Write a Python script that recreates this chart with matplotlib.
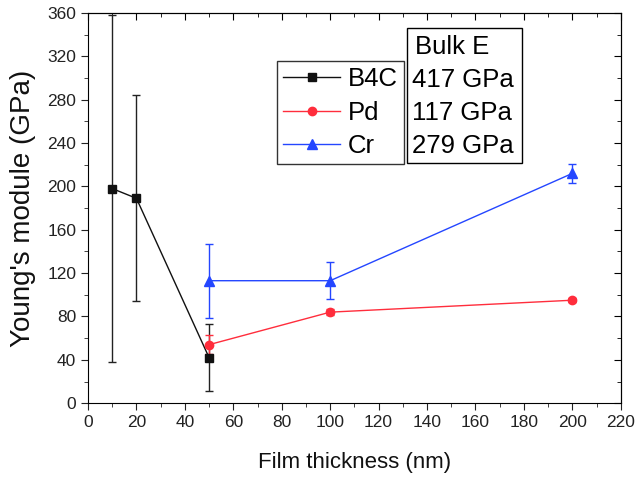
import numpy as np
import matplotlib.pyplot as plt
from matplotlib.patches import Rectangle
from matplotlib.lines import Line2D

plt.rcParams['font.family'] = ['Liberation Sans', 'DejaVu Sans']

# data
b4c_x = [10, 20, 50]
b4c_y = [198, 189, 42]
b4c_err = [160, 95, 31]
pd_x = [50, 100, 200]
pd_y = [54, 84, 95]
pd_err = [9, 3, 2]
cr_x = [50, 100, 200]
cr_y = [113, 113, 212]
cr_err = [34, 17, 9]
bulk_rows = ['Bulk E', '417 GPa', '117 GPa', '279 GPa']

c_b4c, c_pd, c_cr = '#111111', '#ff2d3c', '#2446ff'

fig = plt.figure(figsize=(6.4, 4.8), dpi=100)
ax = fig.add_axes([0.1375, 0.160, 0.8325, 0.813])

kw = dict(lw=1.0, capsize=2.8, elinewidth=1.0, capthick=1.0)
ax.errorbar(b4c_x, b4c_y, yerr=b4c_err, color=c_b4c, marker='s',
            markersize=6, ecolor='#222222', **kw)
ax.errorbar(pd_x, pd_y, yerr=pd_err, color=c_pd, marker='o',
            markersize=6, **kw)
ax.errorbar(cr_x, cr_y, yerr=cr_err, color=c_cr, marker='^',
            markersize=7, **kw)

ax.set_xlim(0, 220)
ax.set_ylim(0, 360)
ax.set_xticks(np.arange(0, 221, 20))
ax.set_yticks(np.arange(0, 361, 40))
ax.set_xticks(np.arange(0, 221, 10), minor=True)
ax.set_yticks(np.arange(0, 361, 20), minor=True)
ax.tick_params(which='both', direction='out', labelsize=12.5, colors='#222222')
ax.tick_params(which='major', length=5)
ax.tick_params(which='minor', length=3)

# top/right ticks pointing inward
sx = ax.secondary_xaxis('top')
sx.set_xticks(np.arange(0, 221, 20))
sx.set_xticks(np.arange(0, 221, 10), minor=True)
sx.tick_params(which='both', direction='in', labeltop=False)
sx.tick_params(which='major', length=5)
sx.tick_params(which='minor', length=3)
sy = ax.secondary_yaxis('right')
sy.set_yticks(np.arange(0, 361, 40))
sy.set_yticks(np.arange(0, 361, 20), minor=True)
sy.tick_params(which='both', direction='in', labelright=False)
sy.tick_params(which='major', length=5)
sy.tick_params(which='minor', length=3)

ax.set_xlabel('Film thickness (nm)', fontsize=16, labelpad=16, color='#111111')
ax.set_ylabel("Young's module (GPa)", fontsize=20, labelpad=8, color='#111111')

handles = [Line2D([], [], color=c_b4c, marker='s', markersize=6, lw=1),
           Line2D([], [], color=c_pd, marker='o', markersize=6, lw=1),
           Line2D([], [], color=c_cr, marker='^', markersize=7, lw=1)]
labels = ['B4C', 'Pd', 'Cr']
leg = ax.legend(handles, labels, loc='upper left',
                bbox_to_anchor=(277 / 640, 1 - 61 / 480),
                bbox_transform=fig.transFigure, fontsize=18.5,
                frameon=True, fancybox=False, edgecolor='black',
                handlelength=2.2, handletextpad=0.3, labelspacing=0.36,
                borderpad=0.25, borderaxespad=0)
leg.get_frame().set_linewidth(1.0)

# Bulk E table box
fig.patches.append(Rectangle((407 / 640, 1 - 163 / 480), 115 / 640, 135 / 480,
                             transform=fig.transFigure, fill=False,
                             edgecolor='black', lw=1.0))
for i, t in enumerate(bulk_rows):
    fig.text(412 / 640 if i else 415 / 640, 1 - (47 + 33 * i) / 480, t,
             fontsize=18.5, va='center', ha='left')

fig.savefig('out.png', dpi=100)
